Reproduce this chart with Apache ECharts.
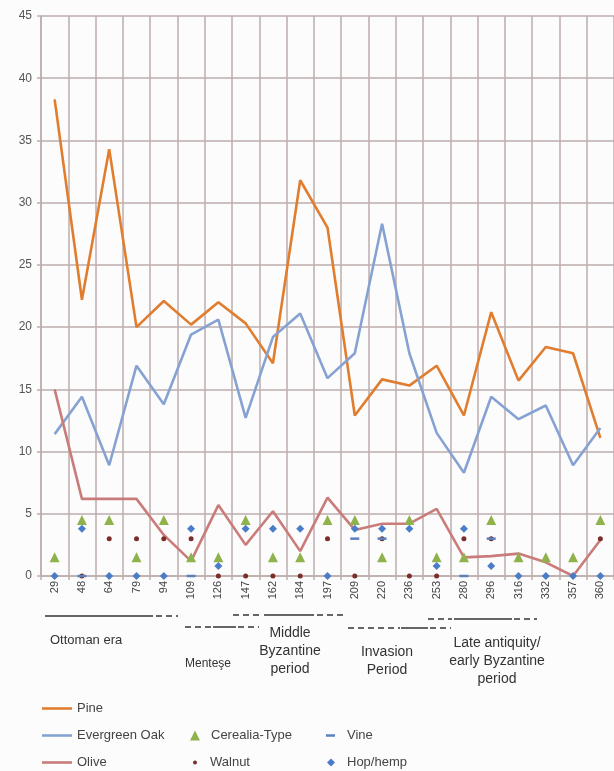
<!DOCTYPE html>
<html>
<head>
<meta charset="utf-8">
<script src="https://cdn.jsdelivr.net/npm/echarts@6/dist/echarts.min.js"></script>
<style>
  html, body { margin: 0; padding: 0; background: #fcfcfc; }
  #chart { width: 614px; height: 771px; }
</style>
</head>
<body>
<div id="chart"></div>
<script>
// Sample depths (cm) along the core
const samples = ['29', '48', '64', '79', '94', '109', '126', '147', '162', '184', '197',
                 '209', '220', '236', '253', '280', '296', '316', '332', '357', '360'];

// Pollen percentages – tree taxa
const pine = [38.3, 22.2, 34.3, 20.0, 22.1, 20.2, 22.0, 20.3, 17.1, 31.8, 28.0,
              12.9, 15.8, 15.3, 16.9, 12.9, 21.2, 15.7, 18.4, 17.9, 11.1];
const evergreenOak = [11.4, 14.4, 8.9, 16.9, 13.8, 19.4, 20.6, 12.7, 19.2, 21.1, 15.9,
                      17.9, 28.3, 17.9, 11.5, 8.3, 14.4, 12.6, 13.7, 8.9, 11.9];
const olive = [15.0, 6.2, 6.2, 6.2, 3.3, 1.2, 5.7, 2.5, 5.2, 2.0, 6.3,
               3.7, 4.2, 4.2, 5.4, 1.5, 1.6, 1.8, 1.1, 0.0, 2.9];

// Presence markers for cultivated taxa ('-' = not drawn)
const cerealia = [1.5, 4.5, 4.5, 1.5, 4.5, 1.5, 1.5, 4.5, 1.5, 1.5, 4.5,
                  4.5, 1.5, 4.5, 1.5, 1.5, 4.5, 1.5, 1.5, 1.5, 4.5];
const walnut = ['-', 0, 3, 3, 3, 3, 0, 0, 0, 0, 3,
                0, 3, 0, 0, 3, 3, '-', '-', '-', 3];
const vine = ['-', 0, '-', '-', '-', 0, '-', '-', '-', '-', '-',
              3, 3, '-', '-', 0, 3, '-', '-', '-', '-'];
const hopHemp = [0, 3.8, 0, 0, 0, 3.8, 0.8, 3.8, 3.8, 3.8, 0,
                 3.8, 3.8, 3.8, 0.8, 3.8, 0.8, 0, 0, 0, 0];

const yTicks = [0, 5, 10, 15, 20, 25, 30, 35, 40, 45];

const GRID = '#bcaeac';
const FONT = 'Liberation Sans, Arial, sans-serif';

const chart = echarts.init(document.getElementById('chart'), null, { renderer: 'canvas' });

function lineSeries(name, data, color) {
  return {
    name, type: 'line', data, symbol: 'none', z: 3,
    lineStyle: { color, width: 2.6 }, itemStyle: { color },
    animation: false
  };
}
function markSeries(name, data, symbol, size, color) {
  return {
    name, type: 'scatter', data, symbol, symbolSize: size, z: 5,
    itemStyle: { color, opacity: 1 }, animation: false
  };
}

// Period bars beneath the sample axis
function seg(x1, x2, y, dashed) {
  return {
    type: 'line', silent: true,
    shape: { x1, y1: y, x2, y2: y },
    style: { stroke: '#666', lineWidth: 2, lineDash: dashed ? [6, 4] : null }
  };
}
function label(text, x, y, size, align) {
  return {
    type: 'text', silent: true, x, y,
    style: {
      text, fill: '#333', font: size + 'px ' + FONT,
      align: align || 'center', verticalAlign: 'top', lineHeight: size + 4
    }
  };
}

const legendText = { color: '#444', fontSize: 13, fontFamily: FONT };

// One legend entry per slot of the three-column key
function legendEntry(name, icon, left, centerY, w, h, gap) {
  return {
    data: [{ name, icon }],
    left, top: centerY - 6, padding: 0,
    itemWidth: w, itemHeight: h,
    textStyle: Object.assign({ padding: [0, 0, 0, gap] }, legendText)
  };
}

const option = {
  backgroundColor: '#fcfcfc',
  animation: false,
  grid: { left: 41, right: -2, top: 16, bottom: 195, containLabel: false },
  xAxis: {
    type: 'category',
    data: samples,
    boundaryGap: true,
    axisLine: { show: true, lineStyle: { color: GRID, width: 1.5 } },
    axisTick: { show: true, length: 4, lineStyle: { color: GRID, width: 1.5 } },
    splitLine: { show: true, interval: 0, lineStyle: { color: GRID, width: 1.5 } },
    axisLabel: { rotate: 90, interval: 0, margin: 5, color: '#444', fontSize: 11, fontFamily: FONT }
  },
  yAxis: {
    type: 'value',
    min: yTicks[0], max: yTicks[yTicks.length - 1], interval: 5,
    axisLine: { show: true, lineStyle: { color: GRID, width: 1.5 } },
    axisTick: { show: true, length: 4, lineStyle: { color: GRID, width: 1.5 } },
    splitLine: { show: true, lineStyle: { color: GRID, width: 1.5 } },
    axisLabel: { color: '#555', fontSize: 12, fontFamily: FONT, margin: 9 }
  },
  legend: [
    legendEntry('Pine', 'rect', 42, 708, 30, 2.6, 0),
    legendEntry('Evergreen Oak', 'rect', 42, 735, 30, 2.6, 0),
    legendEntry('Olive', 'rect', 42, 762, 30, 2.6, 0),
    legendEntry('Cerealia-Type', 'triangle', 190, 735, 10, 10, 6),
    legendEntry('Walnut', 'circle', 193, 762, 4, 4, 8),
    legendEntry('Vine', 'rect', 326, 735, 9, 2.5, 7),
    legendEntry('Hop/hemp', 'diamond', 327, 762, 8, 8, 7)
  ],
  series: [
    lineSeries('Pine', pine, '#e07d2f'),
    lineSeries('Evergreen Oak', evergreenOak, '#86a2d2'),
    lineSeries('Olive', olive, '#c97c7a'),
    markSeries('Cerealia-Type', cerealia, 'triangle', 10, '#8fb24c'),
    markSeries('Walnut', walnut, 'circle', 5, '#7b2d27'),
    markSeries('Vine', vine, 'rect', [9, 2.5], '#5a80c0'),
    markSeries('Hop/hemp', hopHemp, 'diamond', 8, '#4a7cc8')
  ],
  graphic: [
    // Ottoman era
    seg(45, 153, 616, false), seg(156, 178, 616, true),
    label('Ottoman era', 50, 632, 13, 'left'),
    // Menteşe
    seg(185, 212, 627, true), seg(213, 236, 627, false), seg(238, 259, 627, true),
    label('Menteşe', 185, 656, 12, 'left'),
    // Middle Byzantine period
    seg(233, 262, 615, true), seg(264, 314, 615, false), seg(317, 343, 615, true),
    label('Middle\nByzantine\nperiod', 290, 624, 14),
    // Invasion Period
    seg(348, 400, 628, true), seg(401, 428, 628, false), seg(430, 451, 628, true),
    label('Invasion\nPeriod', 387, 643, 14),
    // Late antiquity / early Byzantine period
    seg(428, 452, 619, true), seg(454, 512, 619, false), seg(514, 537, 619, true),
    label('Late antiquity/\nearly Byzantine\nperiod', 497, 634, 14)
  ]
};

chart.setOption(option);
</script>
</body>
</html>
